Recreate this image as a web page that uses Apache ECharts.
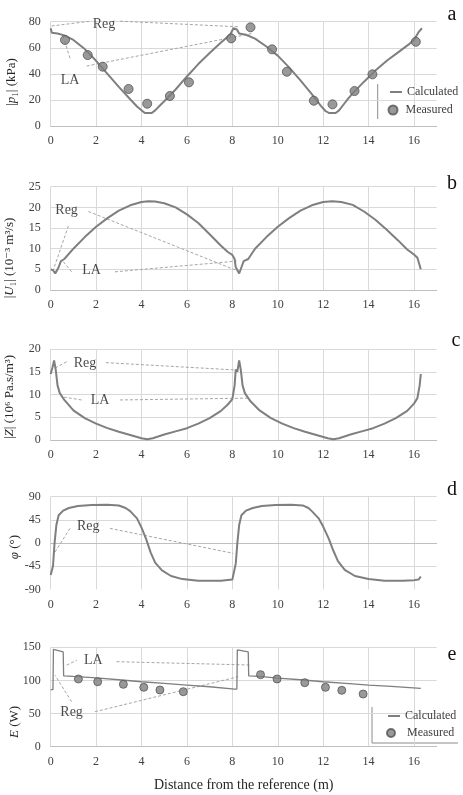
<!DOCTYPE html>
<html>
<head>
<meta charset="utf-8">
<script src="https://cdn.jsdelivr.net/npm/echarts@6/dist/echarts.min.js"></script>
<style>
  html, body { margin: 0; background: #fff; }
  #chart { width: 463px; height: 795px; }
</style>
</head>
<body>
<div id="chart"></div>
<script>
// distance (m) vs value
const pressureCalc = [[0,75],[0.05,71.5],[0.3,71],[0.6,69.5],[1.0,66],[1.5,59],[2.0,50],[2.5,40],[3.0,30],[3.5,20.5],[3.8,15],[4.0,12],[4.15,10],[4.45,10],[4.6,12],[4.8,15.5],[5.0,19],[5.5,28],[6.0,38],[6.5,47.5],[7.0,56],[7.5,64],[7.9,70],[8.05,75],[8.2,74],[8.3,71],[8.6,70],[9.0,67],[9.5,61],[10.0,54],[10.5,45],[11.0,35],[11.5,24.5],[11.9,15.5],[12.1,11.5],[12.25,10],[12.55,10],[12.7,12],[12.9,16.5],[13.1,21],[13.3,25],[13.8,34],[14.3,42.5],[14.8,50],[15.3,56.5],[15.8,63],[16.0,66],[16.2,72],[16.35,75]];
const pressureMeas = [[0.63,66],[1.63,54.4],[2.29,45.5],[3.43,28.4],[4.25,17.1],[5.25,23],[6.09,33.5],[7.95,67.2],[8.8,75.7],[9.75,58.8],[10.4,41.6],[11.59,19.4],[12.41,16.6],[13.38,26.8],[14.17,39.6],[16.08,64.6]];
const flowCalc = [[0,5.0],[0.1,4.8],[0.2,4.0],[0.35,5.5],[0.45,7.0],[0.6,7.5],[1.0,10.0],[1.5,12.8],[2.0,15.3],[2.5,17.4],[3.0,19.2],[3.5,20.5],[4.0,21.3],[4.3,21.5],[4.6,21.4],[5.0,21.0],[5.5,20.0],[6.0,18.3],[6.5,16.2],[7.0,13.5],[7.5,10.7],[7.8,9.2],[8.0,8.5],[8.1,7.5],[8.15,5.5],[8.3,4.0],[8.4,5.5],[8.5,7.0],[8.7,7.5],[9.0,10.0],[9.5,12.8],[10.0,15.3],[10.5,17.4],[11.0,19.2],[11.5,20.5],[12.0,21.3],[12.4,21.5],[12.8,21.3],[13.3,20.6],[13.8,19.0],[14.3,17.0],[14.8,14.6],[15.3,12.0],[15.7,9.8],[16.0,8.6],[16.15,7.8],[16.3,5.0]];
const impedanceCalc = [[0,14.5],[0.08,16],[0.15,17.5],[0.22,15.5],[0.3,12],[0.4,10.3],[0.6,8.8],[1.0,6.5],[1.5,4.8],[2.0,3.6],[2.5,2.6],[3.0,1.8],[3.5,1.1],[4.0,0.4],[4.25,0.15],[4.5,0.4],[5.0,1.2],[5.5,1.9],[6.0,2.6],[6.5,3.6],[7.0,4.8],[7.5,6.4],[7.8,7.8],[8.0,9.0],[8.1,12],[8.15,15.5],[8.22,15],[8.3,17.5],[8.37,15.5],[8.45,12],[8.55,10.3],[8.8,8.5],[9.2,6.5],[9.7,4.8],[10.2,3.6],[10.7,2.6],[11.2,1.8],[11.7,1.1],[12.2,0.4],[12.45,0.15],[12.7,0.4],[13.2,1.2],[13.7,1.9],[14.2,2.6],[14.7,3.6],[15.2,4.8],[15.7,6.4],[16.0,8.0],[16.15,9.2],[16.25,12],[16.3,14.5]];
const phaseCalc = [[0,-62],[0.1,-45],[0.17,0],[0.25,35],[0.35,54],[0.55,63],[0.8,68],[1.2,72],[1.8,74],[2.5,74.5],[3.0,73],[3.3,68],[3.5,62],[3.8,48],[4.0,30],[4.2,8],[4.4,-18],[4.6,-38],[4.9,-53],[5.3,-64],[5.8,-70],[6.5,-73],[7.5,-73],[8.0,-71],[8.08,-68],[8.15,-40],[8.22,0],[8.3,35],[8.4,54],[8.6,63],[8.9,68],[9.3,72],[9.9,74],[10.6,74.5],[11.1,73],[11.35,68],[11.5,62],[11.8,48],[12.0,32],[12.25,8],[12.45,-15],[12.65,-35],[12.95,-52],[13.4,-64],[14.0,-70],[14.7,-73],[15.5,-73],[16.0,-72],[16.2,-71],[16.3,-65]];
const powerCalc = [[0,86],[0.1,86],[0.12,147],[0.2,144],[0.55,143],[0.57,107],[1.0,106],[2.0,104],[3.0,101],[4.0,98],[5.0,95.5],[6.0,93],[7.0,90.5],[8.1,87],[8.2,87],[8.22,146],[8.3,143],[8.7,143],[8.72,107],[9.2,106],[10.0,103.5],[11.0,101],[12.0,98],[13.0,95.5],[14.0,93],[15.0,91],[16.3,88]];
const powerMeas = [[1.22,102.2],[2.07,98.1],[3.2,94.1],[4.1,89.6],[4.81,85.6],[5.84,83],[9.24,108.7],[9.97,102.2],[11.19,96.6],[12.1,89.6],[12.82,85.1],[13.76,79.5]];

// axis ranges per panel (min, max, step)
const yRanges = [[0, 80, 20], [0, 25, 5], [0, 20, 5], [-90, 90, 45], [0, 150, 50]];
const yNames = ['|{i|p}₁| (kPa)', '|{i|U}₁| (10⁻³ m³/s)', '|{i|Z}| (10⁶ Pa.s/m³)', '{i|φ} (°)', '{i|E} (W)'];
const panelLetters = ['a', 'b', 'c', 'd', 'e'];

// "Reg" / "LA" call-outs: [text, x, y] and leader segments, in data units
const notesA = [['Reg', 2.35, 78.3], ['LA', 0.85, 35]];
const leadersA = [[[0.04,76.7],[1.75,80.4]], [[3.05,80.4],[8.26,76.1]], [[0.85,52],[0.55,68.5]], [[1.58,46],[8.92,71.1]]];
const notesB = [['Reg', 0.7, 19.4], ['LA', 1.8, 4.8]];
const leadersB = [[[0.78,15.5],[0.11,4.8]], [[1.66,19],[8.33,4.4]], [[0.92,4.4],[0.55,6.9]], [[2.83,4.4],[8.19,7.0]]];
const notesC = [['Reg', 1.51, 16.9], ['LA', 2.17, 8.8]];
const leadersC = [[[0.7,17.2],[0.19,15.8]], [[2.43,17],[8.11,15.4]], [[1.36,8.8],[0.48,9.5]], [[3.05,8.8],[8.7,9.2]]];
const notesD = [['Reg', 1.65, 31.7]];
const leadersD = [[[0.85,28.5],[0.11,-23]], [[2.61,28.5],[8.04,-20]]];
const notesE = [['LA', 1.88, 129.8], ['Reg', 0.92, 51.3]];
const leadersE = [[[0.7,123],[1.15,130.5]], [[2.9,128.3],[8.77,123.3]], [[0.92,67.9],[0.19,108]], [[1.95,52.8],[8.26,105.6]]];

const SERIF = '"Liberation Serif", "DejaVu Serif", serif';
const LINE = '#7f7f7f';
const GRID = '#d9d9d9';
const TEXT = '#404040';

const grids = [
  { left: 50.7, top: 21.7, width: 386, height: 104.3 },
  { left: 50.7, top: 186.7, width: 386, height: 103.3 },
  { left: 50.7, top: 349, width: 386, height: 91 },
  { left: 50.7, top: 496.7, width: 386, height: 92.7 },
  { left: 50.7, top: 647.3, width: 386, height: 99.4 }
].map((g) => ({ ...g, outerBoundsMode: 'none', containLabel: false }));

const xAxes = grids.map((g, i) => ({
  type: 'value',
  gridIndex: i,
  min: 0,
  max: 17,
  interval: 2,
  axisLine: { show: true, onZero: true, lineStyle: { color: '#bfbfbf' } },
  axisTick: { show: false },
  axisLabel: { margin: 9, showMaxLabel: false, fontFamily: SERIF, fontSize: 12, color: TEXT },
  splitLine: { show: true, showMaxLine: false, lineStyle: { color: GRID } },
  name: i === 4 ? 'Distance from the reference (m)' : '',
  nameLocation: 'middle',
  nameGap: 32,
  nameTextStyle: { fontFamily: SERIF, fontSize: 14, color: '#262626' }
}));

const yAxes = yRanges.map(([min, max, step], i) => ({
  type: 'value',
  gridIndex: i,
  min, max, interval: step,
  axisLine: { show: false },
  axisTick: { show: false },
  axisLabel: { margin: 10, fontFamily: SERIF, fontSize: 12, color: TEXT },
  splitLine: { show: true, showMinLine: i !== 3, lineStyle: { color: GRID } }
}));

const curve = (data, gi, width) => ({
  type: 'line', name: 'Calculated', xAxisIndex: gi, yAxisIndex: gi, data,
  symbol: 'none', silent: true, z: 3,
  lineStyle: { color: LINE, width }, itemStyle: { color: LINE }
});

const dots = (data, gi, size) => ({
  type: 'scatter', name: 'Measured', xAxisIndex: gi, yAxisIndex: gi, data,
  symbolSize: size, silent: true, z: 4,
  itemStyle: { color: '#808080', borderColor: '#555', borderWidth: 1 }
});

const leaders = (segs, gi) => segs.map((seg) => ({
  type: 'line', xAxisIndex: gi, yAxisIndex: gi, data: seg,
  symbol: 'none', clip: false, silent: true, z: 2,
  lineStyle: { color: '#a6a6a6', width: 1, type: [3, 2] }
}));

const notes = (items, gi) => ({
  type: 'scatter', xAxisIndex: gi, yAxisIndex: gi, clip: false, silent: true, z: 5,
  symbolSize: 1, itemStyle: { color: 'rgba(0,0,0,0)' },
  data: items.map(([t, x, y]) => ({ name: t, value: [x, y] })),
  label: { show: true, position: 'inside', formatter: '{b}', fontFamily: SERIF, fontSize: 14, color: '#1a1a1a' }
});

const series = [
  curve(pressureCalc, 0, 2), dots(pressureMeas, 0, 9),
  curve(flowCalc, 1, 2),
  curve(impedanceCalc, 2, 2),
  curve(phaseCalc, 3, 2),
  curve(powerCalc, 4, 1.3), dots(powerMeas, 4, 8),
  ...leaders(leadersA, 0), notes(notesA, 0),
  ...leaders(leadersB, 1), notes(notesB, 1),
  ...leaders(leadersC, 2), notes(notesC, 2),
  ...leaders(leadersD, 3), notes(notesD, 3),
  ...leaders(leadersE, 4), notes(notesE, 4)
];

// one legend per entry so the line and dot keys can have their own sizes
const legendText = { fontFamily: SERIF, fontSize: 12, color: TEXT };
const lineKey = (left, top) => ({
  data: [{ name: 'Calculated', icon: 'rect' }], left, top, padding: 0,
  itemWidth: 12, itemHeight: 2, selectedMode: false, textStyle: legendText
});
const dotKey = (left, top, size, pad) => ({
  data: [{ name: 'Measured', icon: 'circle' }], left, top, padding: 0,
  itemWidth: size, itemHeight: size, selectedMode: false,
  textStyle: { ...legendText, padding: [0, 0, 0, pad] }
});
const legends = [
  lineKey(390, 86), dotKey(387.5, 104, 9, 3),
  lineKey(388, 710), dotKey(386, 727, 8, 7)
];

// rotated axis titles and panel letters
const yNamePos = [[12, 82], [10, 258], [10, 397], [15, 547], [15, 722]];
const letterPos = [[452, 15], [452, 184], [456, 341], [452, 490], [452, 655]];
const graphics = [
  ...yNames.map((t, i) => ({
    type: 'text', x: yNamePos[i][0], y: yNamePos[i][1], rotation: Math.PI / 2,
    style: {
      text: t, font: '13px ' + SERIF, fill: '#262626', align: 'center', verticalAlign: 'middle',
      rich: { i: { fontFamily: SERIF, fontStyle: 'italic', fontSize: 13, fill: '#262626' } }
    }
  })),
  ...panelLetters.map((t, i) => ({
    type: 'text', x: letterPos[i][0], y: letterPos[i][1],
    style: { text: t, font: '20px ' + SERIF, fill: '#111', align: 'center', verticalAlign: 'middle' }
  })),
  { type: 'line', shape: { x1: 377.7, y1: 84, x2: 377.7, y2: 119 }, style: { stroke: '#8c8c8c', lineWidth: 1 } },
  { type: 'line', shape: { x1: 372, y1: 707, x2: 372, y2: 743 }, style: { stroke: '#8c8c8c', lineWidth: 1 } },
  { type: 'line', shape: { x1: 372, y1: 743, x2: 458, y2: 743 }, style: { stroke: '#8c8c8c', lineWidth: 1 } }
];

const chart = echarts.init(document.getElementById('chart'));
chart.setOption({
  animation: false,
  backgroundColor: '#fff',
  grid: grids,
  xAxis: xAxes,
  yAxis: yAxes,
  legend: legends,
  series,
  graphic: graphics
});
</script>
</body>
</html>
